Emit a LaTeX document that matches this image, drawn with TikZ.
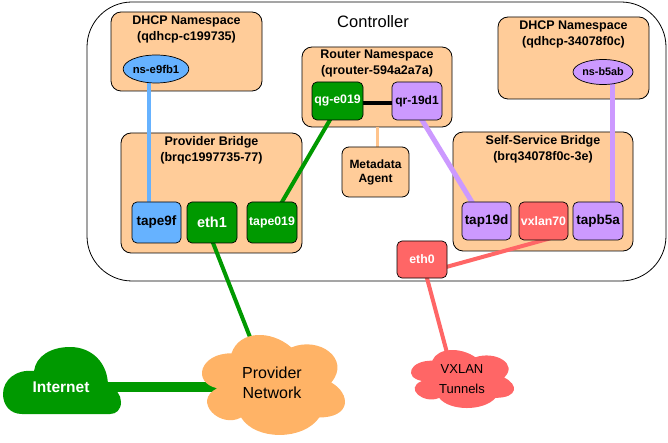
\documentclass[tikz,border=0pt]{standalone}
\usepackage{fontspec}
\setmainfont{Liberation Sans}
\usepackage{xcolor}
\usetikzlibrary{positioning,calc,shapes.geometric}

\definecolor{boxorange}{HTML}{FFCC99}
\definecolor{cloudorange}{HTML}{FFB366}
\definecolor{metaline}{HTML}{FFC48C}
\definecolor{blueport}{HTML}{66B2FF}
\definecolor{greenport}{HTML}{009900}
\definecolor{purpleport}{HTML}{CC99FF}
\definecolor{redport}{HTML}{FF6666}

\pgfdeclarelayer{back}
\pgfdeclarelayer{links}
\pgfsetlayers{back,links,main}

\newcommand{\fs}[2]{\fontsize{#1}{#2}\selectfont}
% cloud outline in a unit box, y pointing down
\newcommand{\puffpath}{(0.25,0.25) .. controls (0.05,0.25) and (0,0.5) .. (0.16,0.55)
	.. controls (0,0.66) and (0.18,0.9) .. (0.31,0.8)
	.. controls (0.4,1) and (0.7,1) .. (0.8,0.8)
	.. controls (1,0.8) and (1,0.6) .. (0.875,0.5)
	.. controls (1,0.3) and (0.8,0.1) .. (0.625,0.2)
	.. controls (0.5,0.05) and (0.3,0.05) .. (0.25,0.25) -- cycle}

\tikzset{
	container/.style={draw=black,fill=boxorange,rounded corners=10pt,line width=0.8pt,inner sep=0pt},
	title/.style={font=\fs{12.5}{16}\bfseries,align=center,inner sep=0pt},
	port/.style={draw=black,fill=#1,rounded corners=5pt,line width=0.7pt,minimum width=50pt,
			minimum height=38pt,inner sep=0pt,font=\fs{13.5}{16}\bfseries},
	whiteport/.style={port=#1,text=white,font=\fs{12.3}{14}\bfseries},
	nsend/.style={ellipse,draw=black,fill=#1,line width=0.7pt,minimum width=61pt,
			minimum height=28pt,inner sep=0pt,font=\fs{11.3}{14}\bfseries}
}

\begin{document}
\begin{tikzpicture}[x=1pt,y=-1pt]
	\useasboundingbox (0,0) rectangle (668,443);

	% controller and the boxes inside it
	\begin{pgfonlayer}{back}
		\node[draw=black,fill=white,rounded corners=45pt,line width=0.8pt,minimum width=579pt,minimum height=279pt] (ctrl) at (376.5,141.5) {};
		\node[container,minimum width=151pt,minimum height=79pt] (dhcpa) at (186.5,51.5) {};
		\node[container,minimum width=150pt,minimum height=80pt] (router) at (377,87) {};
		\node[container,minimum width=181pt,minimum height=120pt] (provbr) at (211.5,193) {};
		\node[container,minimum width=151pt,minimum height=82pt] (dhcpb) at (573.5,58) {};
		\node[container,minimum width=180pt,minimum height=119pt] (selfbr) at (543,191.5) {};
	\end{pgfonlayer}
	\node[font=\fs{16.5}{20}] (ctrltitle) at (373,22) {Controller};

	% titles
	\node[title,below=3.5pt of dhcpa.north] (dhcpatitle) {DHCP Namespace\\(qdhcp-c199735)};
	\node[title,below=3.5pt of router.north] (routertitle) {Router Namespace\\(qrouter-594a2a7a)};
	\node[title,below=3.5pt of provbr.north] (provbrtitle) {Provider Bridge\\(brqc1997735-77)};
	\node[title,below=3.5pt of dhcpb.north] (dhcpbtitle) {DHCP Namespace\\(qdhcp-34078f0c)};
	\node[title,below=3.5pt of selfbr.north] (selfbrtitle) {Self-Service Bridge\\(brq34078f0c-3e)};

	% interfaces
	\node[nsend=blueport] (nse9fb1) at (156,69) {ns-e9fb1};
	\node[nsend=purpleport,minimum width=60pt,minimum height=25pt,font=\fs{10.8}{14}\bfseries] (nsb5ab) at (603,72) {ns-b5ab};
	\node[whiteport=greenport,minimum width=51pt] (qge019) at (337.5,101) {qg-e019};
	\node[port=purpleport,font=\fs{12}{14}\bfseries] (qr19d1) at (417,101) {qr-19d1};
	\node[container,rounded corners=7pt,minimum width=67pt,minimum height=50pt,align=center,font=\fs{12}{14}\bfseries] (meta) at (375.5,172) {Metadata\\Agent};
	\node[port=blueport,minimum width=49pt,minimum height=41pt] (tape9f) at (156.5,222.5) {tape9f};
	\node[whiteport=greenport,minimum height=41pt,font=\fs{14.5}{16}\bfseries] (eth1) at (212,222.5) {eth1};
	\node[whiteport=greenport,minimum height=41pt] (tape019) at (272,222.5) {tape019};
	\node[port=purpleport,minimum width=49pt] (tap19d) at (486.5,221) {tap19d};
	\node[whiteport=redport,minimum width=49pt] (vxlan70) at (543.5,221) {vxlan70};
	\node[port=purpleport] (tapb5a) at (598,221) {tapb5a};
	\node[whiteport=redport,minimum height=37pt] (eth0) at (422,259.5) {eth0};

	% clouds
	\fill[greenport] (22,414) .. controls (10,414) and (3,405) .. (3,394) .. controls (3,380) and (16,369) .. (34,371)
		.. controls (36,356) and (51,347) .. (70,347) .. controls (92,347) and (108,363) .. (108,386)
		.. controls (116,388) and (121,395) .. (121,402) .. controls (121,410) and (116,414) .. (110,414) -- cycle;
	\begin{scope}[shift={(191.6,324.1)},xscale=159.6,yscale=116.7]
		\fill[cloudorange] \puffpath;
	\end{scope}
	\begin{scope}[shift={(403.5,343.7)},xscale=115,yscale=67.7]
		\fill[redport] \puffpath;
	\end{scope}
	\node[text=white,font=\fs{15.5}{18}\bfseries] (inet) at (61,387) {Internet};
	\node[align=center,font=\fs{16}{19.5}] (provnet) at (272,383) {Provider\\Network};
	\node[align=center,font=\fs{13}{20}] (vxlan) at (462,379) {VXLAN\\Tunnels};

	% links
	\begin{pgfonlayer}{links}
		\draw[blueport,line width=4.5pt] ([xshift=-7pt]nse9fb1.center) -- ([xshift=-7.5pt]tape9f.center);
		\draw[black,line width=4.5pt] ([yshift=-2pt]qge019.center) -- ([yshift=-2pt]qr19d1.center);
		\draw[greenport,line width=4pt] ([xshift=3.5pt]qge019.center) -- ([xshift=-2pt]tape019.center);
		\draw[metaline,line width=3pt] (router.south) -- (router.south |- meta.north);
		\draw[purpleport,line width=5pt] ([xshift=-6.6pt]qr19d1.center) -- ([xshift=-3pt]tap19d.center);
		\draw[purpleport,line width=5pt] ([xshift=9pt]nsb5ab.center) -- ([xshift=14pt]tapb5a.center);
		\draw[redport,line width=4pt] ($(vxlan70.south)+(6.5,-2)$) -- ($(eth0.east)+(-3,8)$);
		\draw[redport,line width=4pt] (eth0.center) -- ($(vxlan)+(-8,0)$);
		\draw[greenport,line width=4pt] ([xshift=-7pt]eth1.center) -- ([xshift=-4pt]provnet.center);
		\draw[greenport,line width=10pt] (inet) -- (inet -| provnet);
	\end{pgfonlayer}
\end{tikzpicture}
\end{document}
